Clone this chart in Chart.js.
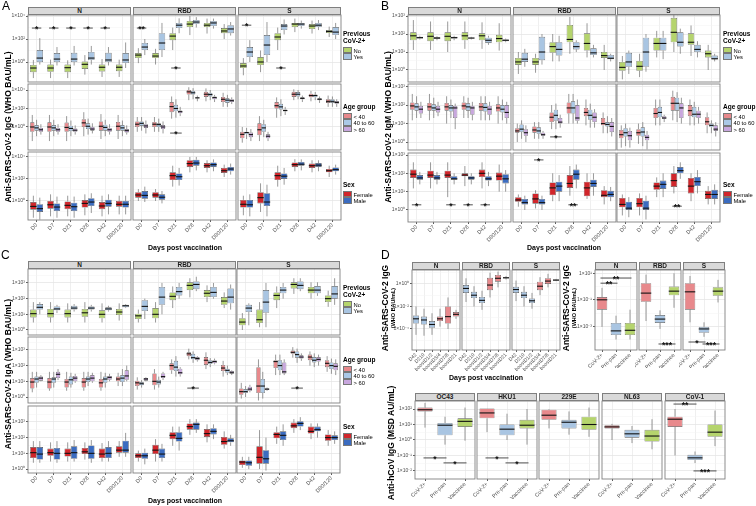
<!DOCTYPE html>
<html>
<head>
<meta charset="utf-8">
<script src="https://cdn.jsdelivr.net/npm/chart.js@4.4.1/dist/chart.umd.min.js"></script>
<style>
  body { margin: 0; background: #fff; font-family: "Liberation Sans", Arial, sans-serif; }
  #fig { position: relative; width: 756px; height: 506px; overflow: hidden; background: #fff; }
  #fig canvas { position: absolute; }
  .strip { position: absolute; box-sizing: border-box; height: 8px; background: #d9d9d9; border: 0.8px solid #7f7f7f;
           font-weight: bold; font-size: 6.5px; line-height: 6.6px; text-align: center; color: #1a1a1a; z-index: 2; }
  .letter { position: absolute; font-size: 12px; color: #000; }
  .ytitle { position: absolute; white-space: nowrap; font-weight: bold; font-size: 8.5px; color: #000;
            transform: translate(-50%, -50%) rotate(-90deg); text-align: center; line-height: 9px; }
  .ysub { font-size: 5.5px; display: block; line-height: 6px; }
  .xtitle { position: absolute; white-space: nowrap; font-weight: bold; font-size: 7px; color: #000; transform: translate(-50%, -50%); }
  .leg { position: absolute; font-size: 5.8px; color: #000; line-height: 6.5px; }
  .leg b { display: block; font-size: 6.5px; line-height: 6.8px; margin-bottom: 2px; }
  .leg span { display: block; height: 6.5px; white-space: nowrap; }
  .leg i { display: inline-block; width: 6.5px; height: 4.5px; border: 0.5px solid #777; vertical-align: -0.5px; margin-right: 2px; }
</style>
</head>
<body>
<div id="fig"></div>
<script>
// categories
const DAYS = ['D0', 'D7', 'D21', 'D28', 'D42', 'D90/120'];
const ANTIGENS = ['N', 'RBD', 'S'];
const BOOST_DAYS = ['D42', 'D210', 'boostD1/2', 'boostD3/4', 'boostD7/8', 'boostD21'];
const COHORTS = ['CoV-2+', 'Pre-pan', 'Vaccinee'];
const HCOVS = ['OC43', 'HKU1', '229E', 'NL63', 'CoV-1'];

// each box is [lower whisker, q1, median, q3, upper whisker]; per antigen N, RBD, S
const iggNo = [
  [[0.04,0.13,0.3,0.55,1.5],[0.04,0.14,0.3,0.6,1.6],[0.04,0.13,0.32,0.6,1.4],[0.08,0.25,0.63,1.1,4],[0.05,0.15,0.35,0.6,1.8],[0.05,0.16,0.35,0.6,1.6]],
  [[0.8,2.2,4,6,16],[0.6,2.2,3.3,6,14],[11,80,180,320,1000],[220,1100,2000,3700,1e4],[300,1100,1600,2500,6000],[100,320,500,900,2000]],
  [[0.07,0.3,0.45,0.8,2.2],[0.13,0.55,1,2.7,10],[11,80,150,320,1000],[400,1100,2000,2500,6000],[300,740,1350,2000,4000],[150,330,450,600,1200]]
];
const iggYes = [
  [[0.6,1,2.2,11,120],[0.5,1,1.8,6,20],[0.5,1,1.8,6.3,25],[0.6,1.5,2.2,7.4,25],[0.5,1,1.5,6.3,20],[0.3,0.8,1.5,6,50]],
  [[4,11,20,45,100],[2.7,11,45,320,2500],[320,900,1600,2500,6300],[1000,2000,3000,4500,8000],[800,1350,2500,3700,6000],[200,320,750,1600,3000]],
  [[1,2.7,7.4,20,80],[1,4,30,220,3000],[250,600,1350,2000,5000],[800,1350,2000,2500,4000],[600,1100,1600,2500,4500],[100,220,400,1100,2500]]
];
const iggU40 = [
  [[0.03,0.3,1,3.2,20],[0.03,0.3,1,3.2,20],[0.03,0.3,0.9,3,15],[0.1,1,2.8,7,40],[0.05,0.4,1.2,4,25],[0.05,0.4,1.2,3.5,20]],
  [[0.3,1,2,4,12],[0.3,1,2,3.5,12],[8,40,160,500,2000],[800,3200,6300,1e4,2e4],[600,1800,3500,6300,1.5e4],[150,500,1000,1800,5000]],
  [[0.02,0.06,0.16,0.3,1],[0.03,0.13,0.5,2.5,15],[10,100,200,500,1600],[800,1800,3500,6300,1.2e4],[600,1600,2500,4000,8000],[150,400,600,1000,2500]]
];
const iggM40 = [
  [[0.1,0.4,0.8,1.6,6],[0.1,0.4,0.8,1.6,6],[0.1,0.35,0.7,1.4,5],[0.15,0.6,1.2,2.5,8],[0.1,0.4,0.9,1.8,6],[0.1,0.4,0.8,1.6,5]],
  [[0.4,1.3,2.5,4,12],[0.3,1,1.8,2.5,8],[10,50,100,250,1000],[1000,3200,5000,8000,1.6e4],[800,2000,3200,5000,1e4],[150,400,800,1250,3000]],
  [[0.05,0.16,0.25,0.3,0.8],[0.08,0.3,0.8,2,6],[15,80,150,320,1000],[1000,2000,3500,6000,1e4],[800,1600,2500,3200,6000],[150,400,600,1000,2000]]
];
const iggO60 = [
  [[0.15,0.3,0.5,0.8,2],[0.15,0.3,0.5,0.8,2],[0.15,0.3,0.45,0.7,1.5],[0.2,0.4,0.6,1,2.5],[0.15,0.3,0.5,0.8,2],[0.15,0.25,0.4,0.6,1.5]],
  [[0.2,0.8,1.3,2,5],[0.2,0.6,1,1.6,4],[15,30,45,60,150],[600,1250,1400,1600,2500],[500,1000,1500,2000,3000],[300,500,700,1000,1600]],
  [[0.03,0.08,0.15,0.25,0.6],[0.03,0.06,0.1,0.16,0.3],[20,50,60,80,150],[500,1000,1250,1600,2500],[400,800,1000,1250,2000],[150,320,450,630,1000]]
];
const iggF = [
  [[0.03,0.16,0.32,0.8,3],[0.04,0.2,0.45,1,4],[0.04,0.18,0.4,0.9,3],[0.05,0.25,0.6,1.2,4],[0.04,0.18,0.35,0.8,3],[0.06,0.3,0.5,1,3]],
  [[1,2,3.5,6.3,12],[1,2,3.5,6.3,12],[20,80,200,400,1600],[400,1250,2500,5000,1e4],[400,1000,1600,2800,5000],[150,350,560,1000,2000]],
  [[0.05,0.25,0.5,1.25,3],[0.1,0.6,2,6.3,40],[20,80,200,400,1600],[500,1250,2000,3200,6300],[400,1000,1600,2500,5000],[150,400,560,800,1600]]
];
const iggM = [
  [[0.02,0.1,0.2,0.5,2],[0.03,0.12,0.28,0.6,2.5],[0.03,0.12,0.3,0.7,2.5],[0.08,0.35,0.8,1.8,5],[0.06,0.3,0.6,1.3,4],[0.06,0.25,0.5,1,3]],
  [[0.8,1.6,3.2,8,20],[0.6,1.3,2.2,4,8],[25,80,160,320,1000],[600,1600,2800,5600,1e4],[500,1250,2000,3200,6000],[250,500,800,1250,2500]],
  [[0.04,0.25,0.45,1.25,4],[0.04,0.35,0.8,5,30],[30,100,180,320,1000],[600,1600,2200,3500,6000],[500,1250,1800,2800,5000],[250,500,700,1100,2000]]
];

const igmNo = [
  [[13,45,80,125,600],[13,40,75,125,500],[10,40,75,125,500],[15,45,80,125,500],[15,45,80,110,450],[12,35,56,90,400]],
  [[0.6,1.9,2.8,4.7,10],[0.7,1.9,2.8,4.7,8],[3,9,20,35,100],[8,35,50,320,900],[5,12,30,110,400],[1,4.7,6.3,10,25]],
  [[0.3,0.9,1.4,2.8,6],[0.4,0.9,1.6,3.2,8],[5,12,30,63,150],[10,35,125,800,2000],[6,25,35,110,300],[1,5,8,12,25]]
];
const igmYes = [
  [[50,56,63,70,80],[45,55,60,66,75],[45,56,63,70,80],[50,56,60,63,70],[25,32,45,63,80],[35,40,45,50,56]],
  [[1.5,2.8,4,9,15],[2,3.5,10,70,100],[3,6.3,14,35,80],[10,14,20,35,45],[5,6.8,9,16,25],[3,4,4.5,6.8,8]],
  [[0.6,1.5,2.8,9,12],[0.8,1.5,10,63,100],[4,12,30,63,150],[8,20,35,125,200],[5,10,14,25,40],[3,4,4.2,6.3,8]]
];
const igmU40 = [
  [[15,56,90,140,400],[15,50,80,130,400],[10,50,80,130,300],[20,56,90,140,300],[15,50,80,130,300],[10,45,70,110,300]],
  [[1,3.2,4,5.6,10],[1.5,3.2,4.5,7,12],[5,12,22,40,100],[10,35,70,140,400],[8,25,40,70,200],[3,8,10,20,40]],
  [[0.5,1.6,2.5,4.5,8],[0.8,2.2,3.2,5,10],[8,20,35,70,200],[15,50,125,280,600],[8,25,50,100,200],[3,8,12.5,22,40]]
];
const igmM40 = [
  [[20,50,80,125,300],[20,50,70,110,250],[20,45,70,100,200],[20,50,80,125,250],[15,45,75,125,300],[15,40,60,100,200]],
  [[1.5,3.5,5,9,15],[1.5,2.8,4,6.3,12],[5,14,28,56,120],[10,35,70,160,400],[6,16,28,56,120],[3,7,9,12,25]],
  [[0.6,2,3.2,5.6,10],[0.6,2,3.5,6.3,12],[8,22,40,80,200],[12,50,125,250,500],[8,22,32,80,150],[3,6.3,8,10,15]]
];
const igmO60 = [
  [[20,35,60,90,150],[25,40,60,90,150],[5,20,70,90,120],[15,30,70,90,150],[15,30,60,90,150],[10,20,40,100,150]],
  [[1,2.2,3.2,5,8],[1.5,2.2,2.5,3.2,4],[6,10,12,20,30],[10,14,20,100,200],[6,12,22,40,60],[2,3.5,7,12,20]],
  [[0.5,1.25,2.2,4,6],[0.4,1.25,1.8,2.5,4],[12,18,20,25,30],[10,20,70,125,250],[10,20,32,50,80],[2,4,5,8,12]]
];
const igmF = [
  [[15,56,90,160,400],[15,56,80,140,400],[5,56,80,140,400],[20,70,80,100,250],[15,63,100,160,400],[10,40,70,110,300]],
  [[1.5,2.8,3.5,5,7],[1.2,2.2,4,8,12],[3,6.3,16,32,100],[6,16,28,80,250],[4,5.6,16,35,100],[2,5,6.3,12,20]],
  [[0.5,1.4,2,4.5,7],[0.5,1.4,2.2,4.5,8],[5,12.5,20,32,60],[8,18,40,100,250],[3,8,20,56,100],[2,4,7,11,20]]
];
const igmM = [
  [[25,45,56,80,120],[25,45,56,80,120],[25,45,50,70,100],[25,45,56,70,100],[20,40,50,70,120],[10,28,50,90,150]],
  [[1,2,2.5,4,6],[1,2,2.5,4,6],[3,10,20,35,80],[15,45,90,160,300],[6,18,28,45,100],[3,5,7,11,18]],
  [[0.4,1,1.25,2.8,5],[0.3,1,1.25,3.2,6],[5,14,25,40,100],[50,100,140,220,400],[8,20,35,63,150],[2,4,7,12.5,25]]
];

const igaNo = [
  [[3,6.3,11,20,60],[3,6.3,11,22,60],[3,6.3,11,20,50],[3,7,12.5,22,60],[3,5.6,10,18,50],[4,9,14,22,50]],
  [[3,5,8,11,20],[3,5.6,10,25,60],[25,80,140,250,600],[120,350,700,1100,2000],[60,125,220,350,700],[25,40,70,125,250]],
  [[1,2,3.2,5.6,12],[1.5,2.8,4.5,20,60],[25,80,160,250,600],[200,450,800,1100,2000],[100,220,350,560,1100],[30,60,100,160,320]]
];
const igaYes = [
  [[10,20,28,45,60],[12,18,22,32,40],[15,20,25,35,45],[15,20,25,32,40],[15,18,22,28,35],[25,28,35,40,45]],
  [[5,16,32,80,100],[10,40,125,560,1000],[100,160,280,560,1000],[300,400,800,1250,2500],[100,125,250,560,1000],[20,50,125,450,800]],
  [[2,14,25,40,50],[1.5,12.5,60,350,1000],[100,220,350,560,1000],[300,400,700,1250,2000],[150,220,350,630,1100],[40,100,200,630,2000]]
];
const igaU40 = [
  [[2,3.5,9,16,40],[2.5,3.5,9,16,40],[2.5,4,9,14,40],[2.5,4,9,16,40],[2.5,4,8,14,40],[5,10,14,20,35]],
  [[3,5,8,11,18],[3,5.6,10,32,60],[30,50,100,140,250],[250,400,560,700,1200],[60,110,220,350,700],[20,45,70,110,200]],
  [[0.8,1.4,2.2,3.5,8],[0.6,1.8,5,80,250],[25,70,180,220,500],[320,560,700,900,1500],[100,220,350,500,800],[40,80,140,220,400]]
];
const igaM40 = [
  [[4,8,14,20,40],[4,8,14,18,40],[4,6.3,12.5,20,35],[5,9,14,20,40],[4,8,14,20,35],[5,9,16,25,60]],
  [[4,5.6,7,9,12],[4,6.3,9,12.5,20],[20,45,80,200,400],[150,250,320,560,800],[80,125,160,220,300],[25,35,50,63,100]],
  [[1,1.8,2.2,3.2,5],[0.8,1.8,5,14,40],[25,50,100,220,500],[150,320,500,800,1200],[80,160,220,350,600],[30,60,100,160,280]]
];
const igaO60 = [
  [[10,11,16,20,25],[12,16,28,40,60],[8,10,16,22,30],[8,10,16,25,35],[10,12.5,18,22,30],[10,12.5,22,50,100]],
  [[10,11,14,16,18],[12,16,20,32,40],[20,28,35,63,80],[180,220,280,350,400],[120,140,180,220,280],[25,32,35,45,50]],
  [[2,2.5,3.2,4.5,6],[2.5,2.8,3.2,3.5,4],[25,32,40,160,250],[200,280,350,450,600],[100,180,250,350,500],[25,50,90,140,250]]
];
const igaF = [
  [[2.5,5,11,25,60],[3,7,11,20,50],[3,6.3,10,20,50],[4,9,12.5,22,50],[3,5,9,20,45],[6,11,16,28,60]],
  [[3,5,7,10,15],[3,9,16,35,80],[30,80,140,220,500],[150,320,500,800,1500],[50,110,180,350,700],[20,35,56,110,250]],
  [[1.2,1.8,2.8,3.5,6],[1,2.2,5.6,28,300],[40,90,160,220,500],[200,400,560,900,1500],[80,180,250,500,800],[30,63,100,160,300]]
];
const igaM = [
  [[2.5,4,9,25,60],[2.5,4,10,22,60],[3,4.5,11,28,70],[2.5,4.5,10,32,70],[3,5,10,25,60],[6,11,16,63,200]],
  [[2,4.5,7,11,20],[3,5,9,20,40],[15,56,90,220,500],[200,320,700,900,1500],[80,160,250,400,700],[30,50,63,90,150]],
  [[1,1.6,2.5,3.5,6],[0.8,2.2,4.5,16,100],[30,70,140,250,700],[300,500,800,1100,2000],[100,250,320,500,800],[40,70,100,140,250]]
];

// panel D
const boostIgG = [
  [[3e-5,3e-4,8e-4,1.6e-3,1e-2],[2.5e-5,2.5e-4,6.3e-4,1.25e-3,6.3e-3],[3e-5,1.25e-4,2.5e-4,5e-4,2.5e-3],[1.6e-4,5e-4,8e-4,1.25e-3,6.3e-3],[1e-4,3e-4,1.25e-3,1e-2,6.3e-2],[8e-4,1.25e-3,2e-3,3.2e-3,5e-3]],
  [[2.5e-2,0.16,0.4,0.8,3.2],[1e-2,5.6e-2,0.1,0.2,0.63],[5e-3,2e-2,3.5e-2,7e-2,0.25],[6.3e-2,0.28,0.8,3.5,10],[0.5,1.6,3.2,6.3,12.5],[2.5,3.2,3.5,4,5]],
  [[3e-2,0.16,0.32,0.56,2],[1e-2,5.6e-2,0.1,0.2,0.63],[6.3e-3,2e-2,3.2e-2,5e-2,0.16],[0.1,0.28,0.63,1.6,4],[0.5,1,1.8,3.2,8],[1.8,2,2.2,2.5,2.8]]
];
const cohortIgG = [
  [[9e-4,1.8e-2,0.1,0.16,0.8],[1e-4,2.2e-4,4.5e-4,1.8e-3,6.3e-3],[1e-4,2.2e-4,5e-4,1.8e-3,1.8e-2]],
  [[2.5e-3,7e-2,0.32,1.8,8],[6.3e-4,1.8e-3,3.5e-3,7e-3,1.6e-2],[2.5e-2,0.22,0.45,1,10]],
  [[2e-3,1.8e-2,0.4,1.8,6.3],[1.6e-4,3.2e-4,6.3e-4,9e-4,2e-3],[6.3e-2,0.2,0.45,0.9,3.2]]
];
const hcovIgG = [
  [[6.3,70,90,125,250],[0.5,2,9,12.5,32],[0.9,7,16,25,125]],
  [[3.2,25,56,110,110],[1,2,5,10,50],[0.5,5.6,9,20,100]],
  [[5.6,20,40,90,100],[2.2,5.6,14,20,70],[1.6,4.5,10,32,125]],
  [[1,5.6,7,9,11],[0.63,1.4,2.5,4.5,8],[0.25,0.8,1.8,4.5,22]],
  [[0.1,7,22,32,100],[3.2e-2,5e-2,7e-2,0.11,0.18],[0.4,1.6,3.2,10,80]]
];

// significance bars: [row, antigen, groupA, day, groupB, day, value, label]
const sigIgG = [[0,0,0,0,1,0,900,'*'],[0,0,0,1,1,1,900,'*'],[0,0,0,2,1,2,900,'*'],[0,0,0,3,1,3,900,'*'],[0,0,0,4,1,4,900,'*'],
  [0,1,0,0,1,0,900,'**'],[0,1,0,2,1,2,0.3,'*'],[0,2,0,0,1,0,1600,'*'],[0,2,0,2,1,2,0.3,'*'],[1,1,0,2,2,2,0.22,'*']];
const sigIgM = [[1,1,0,2,2,2,1.9,'*'],[2,0,0,0,1,0,1.9,'*'],[2,0,0,2,1,2,1.9,'*'],[2,0,0,3,1,3,1.9,'*'],[2,0,0,4,1,4,1.9,'*'],
  [2,1,0,1,1,1,540,'*'],[2,1,0,3,1,3,1.9,'**'],[2,2,0,3,1,3,1.6,'**']];
const sigIgA = [[1,1,0,3,2,3,3.7,'*'],[1,2,0,3,2,3,3.7,'*']];
// [facet, catA, catB, value, label]
const sigCohort = [[0,0,1,1.8,'**'],[0,0,2,4.4,'**'],[1,1,2,4.6e-5,'***'],[2,0,1,6.5e-5,'*'],[2,1,2,4.6e-5,'***']];
const sigHcov = [[0,0,1,0.069,'*'],[0,1,2,0.033,'*'],[1,0,1,0.069,'*'],[1,1,2,0.033,'*'],[4,0,1,210,'**'],[4,1,2,0.01,'***']];

// log tick breaks
const decadesEven = [1, 100, 1e4];
const decadesEvenMinor = [0.1, 10, 1000];
const decades = [1, 10, 100, 1000];
const halfDecadesLow = [0.316, 3.16, 31.6, 316];
const halfDecadesHigh = [3.16, 31.6, 316, 3162];

const C_NO = '#b5d46d', C_YES = '#a9c5e2', C_U40 = '#e8898c', C_M40 = '#aac8e6', C_O60 = '#c8a7de';
const C_F = '#d1262b', C_M = '#3b6cc0';

Chart.defaults.font.family = '"Liberation Sans", Arial, sans-serif';
const fig = document.getElementById('fig');
const SUP = { '-': '⁻', '0': '⁰', '1': '¹', '2': '²', '3': '³', '4': '⁴', '5': '⁵', '6': '⁶', '7': '⁷', '8': '⁸', '9': '⁹' };
const fmt = v => '1×10' + String(Math.round(Math.log10(v))).split('').map(c => SUP[c]).join('');

const boxPlugin = {
  id: 'boxes',
  beforeDatasetsDraw(chart) {
    const { ctx, chartArea: a, scales: { y } } = chart;
    ctx.save();
    ctx.beginPath(); ctx.rect(a.left, a.top, a.width, a.height); ctx.clip();
    ctx.strokeStyle = '#555'; ctx.lineWidth = 0.6;
    chart.data.datasets.forEach((ds, i) => {
      chart.getDatasetMeta(i).data.forEach((el, j) => {
        const b = ds.box[j];
        ctx.beginPath();
        ctx.moveTo(el.x, y.getPixelForValue(b[0])); ctx.lineTo(el.x, y.getPixelForValue(b[1]));
        ctx.moveTo(el.x, y.getPixelForValue(b[3])); ctx.lineTo(el.x, y.getPixelForValue(b[4]));
        ctx.stroke();
      });
    });
    ctx.restore();
  },
  afterDatasetsDraw(chart) {
    const { ctx, chartArea: a, scales: { y } } = chart;
    ctx.save();
    ctx.beginPath(); ctx.rect(a.left, a.top, a.width, a.height); ctx.clip();
    ctx.strokeStyle = '#111'; ctx.lineWidth = 1.1;
    chart.data.datasets.forEach((ds, i) => {
      chart.getDatasetMeta(i).data.forEach((el, j) => {
        const ym = y.getPixelForValue(ds.box[j][2]);
        ctx.beginPath(); ctx.moveTo(el.x - el.width / 2, ym); ctx.lineTo(el.x + el.width / 2, ym); ctx.stroke();
      });
    });
    (chart.data.sig || []).forEach(s => {
      const ea = chart.getDatasetMeta(s.a[0]).data[s.a[1]];
      const eb = chart.getDatasetMeta(s.b[0]).data[s.b[1]];
      const yy = y.getPixelForValue(s.v);
      ctx.strokeStyle = '#222'; ctx.lineWidth = 0.8;
      ctx.beginPath(); ctx.moveTo(ea.x - 1.5, yy); ctx.lineTo(eb.x + 1.5, yy); ctx.stroke();
      ctx.fillStyle = '#111'; ctx.font = 'bold 8.5px "Liberation Sans", Arial'; ctx.textAlign = 'center';
      ctx.fillText(s.t, (ea.x + eb.x) / 2, yy + 4);
    });
    ctx.restore();
  },
  afterDraw(chart) {
    const { ctx, chartArea: a } = chart;
    ctx.save();
    ctx.strokeStyle = '#808080'; ctx.lineWidth = 0.9;
    ctx.strokeRect(a.left, a.top, a.width, a.height);
    ctx.restore();
  }
};

function facet(o) {
  const P = 4, lw = o.yTicks ? o.lw : 0, bh = o.xTicks ? o.bh : 0;
  const cv = document.createElement('canvas');
  cv.width = o.w + lw + 2 * P; cv.height = o.h + bh + 2 * P;
  cv.style.left = (o.x - lw - P) + 'px'; cv.style.top = (o.y - P) + 'px';
  fig.appendChild(cv);
  const ticks = o.major.concat(o.minor);
  new Chart(cv, {
    type: 'bar',
    data: {
      labels: o.labels,
      sig: o.sig,
      datasets: o.sets.map(s => ({
        data: s.box.map(b => [b[1], b[3]]),
        box: s.box,
        backgroundColor: s.color,
        borderColor: '#555', borderWidth: 0.6, borderSkipped: false,
        categoryPercentage: 0.75, barPercentage: 1
      }))
    },
    options: {
      responsive: false, animation: false, devicePixelRatio: 1,
      layout: { padding: P },
      plugins: { legend: { display: false }, tooltip: { enabled: false } },
      scales: {
        x: {
          grid: { offset: false, color: '#ebebeb', lineWidth: 0.8, drawTicks: o.xTicks, tickLength: 2, tickColor: '#333' },
          border: { display: false },
          ticks: { display: o.xTicks, minRotation: 45, maxRotation: 45, autoSkip: false, padding: 0,
                   color: '#4d4d4d', font: { size: o.xfs || 5.5 } },
          afterFit: s => { s.height = bh; s.paddingLeft = 0; s.paddingRight = 0; }
        },
        y: {
          type: 'logarithmic', min: o.lo, max: o.hi,
          afterBuildTicks: s => { s.ticks = ticks.map(v => ({ value: v, major: o.major.includes(v) })); },
          grid: {
            color: c => (c.tick && c.tick.major) ? '#e6e6e6' : '#f3f3f3',
            lineWidth: c => (c.tick && c.tick.major) ? 0.8 : 0.5,
            drawTicks: o.yTicks, tickLength: 2,
            tickColor: c => (c.tick && c.tick.major) ? '#333' : 'rgba(0,0,0,0)'
          },
          border: { display: false },
          ticks: { display: o.yTicks, autoSkip: false, padding: 1, color: '#4d4d4d', font: { size: 5 },
                   callback: v => o.major.includes(v) ? fmt(v) : '' },
          afterFit: s => { s.width = lw; s.paddingTop = 0; s.paddingBottom = 0; }
        }
      }
    },
    plugins: [boxPlugin]
  });
}

function addDiv(cls, x, y, html, extra) {
  const d = document.createElement('div');
  d.className = cls; d.style.left = x + 'px'; d.style.top = y + 'px'; d.innerHTML = html;
  if (extra) Object.assign(d.style, extra);
  fig.appendChild(d);
  return d;
}
const strip = (x, y, w, t) => addDiv('strip', x, y - 8, t, { width: w + 'px' });
function legend(x, y, title, items) {
  addDiv('leg', x, y, '<b>' + title + '</b>' + items.map(it => '<span><i style="background:' + it[1] + '"></i>' + it[0] + '</span>').join(''));
}

function grid3(p) {
  p.rows.forEach((row, r) => {
    ANTIGENS.forEach((ag, c) => {
      facet({
        x: p.cols[c], y: p.tops[r], w: p.w, h: p.hs[r], labels: DAYS,
        sets: row.groups.map(g => ({ box: g[0][c], color: g[1] })),
        lo: row.lo, hi: row.hi, major: row.major, minor: row.minor,
        yTicks: c === 0, xTicks: r === 2, lw: 24, bh: 22,
        sig: p.sig.filter(s => s[0] === r && s[1] === c).map(s => ({ a: [s[2], s[3]], b: [s[4], s[5]], v: s[6], t: s[7] }))
      });
    });
  });
  ANTIGENS.forEach((ag, c) => strip(p.cols[c], p.tops[0], p.w, ag));
}

const prevGroups = (no, yes) => [[no, C_NO], [yes, C_YES]];
const ageGroups = (a, b, c) => [[a, C_U40], [b, C_M40], [c, C_O60]];
const sexGroups = (f, m) => [[f, C_F], [m, C_M]];

// Panel A: IgG
grid3({
  cols: [28, 133, 238], w: 103, tops: [15, 84, 152], hs: [67, 66, 68], sig: sigIgG,
  rows: [
    { groups: prevGroups(iggNo, iggYes), lo: 0.0182, hi: 12300, major: decadesEven, minor: decadesEvenMinor },
    { groups: ageGroups(iggU40, iggM40, iggO60), lo: 0.00324, hi: 44700, major: decadesEven, minor: decadesEvenMinor },
    { groups: sexGroups(iggF, iggM), lo: 0.0186, hi: 28200, major: decadesEven, minor: decadesEvenMinor }
  ]
});
// Panel B: IgM
grid3({
  cols: [408, 513, 617], w: 103, tops: [15, 84, 153], hs: [67, 66, 69], sig: sigIgM,
  rows: [
    { groups: prevGroups(igmNo, igmYes), lo: 0.214, hi: 1150, major: decades, minor: halfDecadesLow },
    { groups: ageGroups(igmU40, igmM40, igmO60), lo: 0.372, hi: 1380, major: decades, minor: halfDecadesLow },
    { groups: sexGroups(igmF, igmM), lo: 0.219, hi: 1290, major: decades, minor: halfDecadesLow }
  ]
});
// Panel C: IgA
grid3({
  cols: [28, 133, 237], w: 103, tops: [269, 337, 406], hs: [66, 66, 67], sig: sigIgA,
  rows: [
    { groups: prevGroups(igaNo, igaYes), lo: 0.479, hi: 7760, major: decades, minor: halfDecadesHigh },
    { groups: ageGroups(igaU40, igaM40, igaO60), lo: 0.417, hi: 6610, major: decades, minor: halfDecadesHigh },
    { groups: sexGroups(igaF, igaM), lo: 0.562, hi: 10230, major: decades, minor: halfDecadesHigh }
  ]
});

// Panel D top left: booster time course
[412, 462, 512].forEach((x, c) => {
  facet({ x, y: 270, w: 48, h: 80, labels: BOOST_DAYS,
    sets: [{ box: boostIgG[c], color: [C_YES, C_YES, C_YES, C_U40, C_U40, C_U40] }],
    lo: 1.35e-6, hi: 17.4, major: [1e-4, 1e-2, 1], minor: [1e-5, 1e-3, 0.1, 10],
    yTicks: c === 0, xTicks: true, lw: 22, bh: 22, xfs: 5, sig: [] });
  strip(x, 270, 48, ANTIGENS[c]);
});
// Panel D top right: cohorts
[595, 639, 683].forEach((x, c) => {
  facet({ x, y: 270, w: 42, h: 80, labels: COHORTS,
    sets: [{ box: cohortIgG[c], color: [C_U40, C_YES, C_NO] }],
    lo: 1.62e-5, hi: 17.8, major: [1e-3, 0.1, 10], minor: [1e-4, 1e-2, 1],
    yTicks: c === 0, xTicks: true, lw: 20, bh: 18, xfs: 5.5,
    sig: sigCohort.filter(s => s[0] === c).map(s => ({ a: [0, s[1]], b: [0, s[2]], v: s[3], t: s[4] })) });
  strip(x, 270, 42, ANTIGENS[c]);
});
// Panel D bottom: seasonal coronaviruses
[415, 477, 539, 602, 665].forEach((x, c) => {
  facet({ x, y: 401, w: 60, h: 78, labels: COHORTS,
    sets: [{ box: hcovIgG[c], color: [C_U40, C_YES, C_NO] }],
    lo: 0.003, hi: 331, major: [0.01, 0.1, 1, 10, 100], minor: [0.0316, 0.316, 3.16, 31.6, 316],
    yTicks: c === 0, xTicks: true, lw: 22, bh: 20, xfs: 5.5,
    sig: sigHcov.filter(s => s[0] === c).map(s => ({ a: [0, s[1]], b: [0, s[2]], v: s[3], t: s[4] })) });
  strip(x, 401, 60, HCOVS[c]);
});

// letters, titles, legends
addDiv('letter', 2, -1, 'A'); addDiv('letter', 381, -1, 'B');
addDiv('letter', 1, 248, 'C'); addDiv('letter', 381, 248, 'D');
addDiv('ytitle', 8, 127, 'Anti-SARS-CoV-2 IgG (WHO BAU/mL)');
addDiv('ytitle', 388, 127, 'Anti-SARS-CoV-2 IgM (WHO BAU/mL)');
addDiv('ytitle', 8, 374, 'Anti-SARS-CoV-2 IgA (WHO BAU/mL)');
addDiv('ytitle', 388, 308, 'Anti-SARS-CoV-2 IgG<span class="ysub">(WHO BAU/mL)</span>');
addDiv('ytitle', 569, 308, 'Anti-SARS-CoV-2 IgG<span class="ysub">(WHO BAU/mL)</span>');
addDiv('ytitle', 391, 443, 'Anti-hCoV IgG (MSD AU/mL)');
addDiv('xtitle', 185, 247, 'Days post vaccination');
addDiv('xtitle', 564, 247, 'Days post vaccination');
addDiv('xtitle', 185, 500, 'Days post vaccination');
addDiv('xtitle', 486, 377, 'Days post vaccination');

function legendSet(x, y1, y2, y3) {
  legend(x, y1, 'Previous<br>CoV-2+', [['No', C_NO], ['Yes', C_YES]]);
  legend(x, y2, 'Age group', [['&lt; 40', C_U40], ['40 to 60', C_M40], ['&gt; 60', C_O60]]);
  legend(x, y3, 'Sex', [['Female', C_F], ['Male', C_M]]);
}
legendSet(343, 31, 104, 182);
legendSet(723, 31, 104, 182);
legendSet(343, 285, 357, 424);
</script>
</body>
</html>
